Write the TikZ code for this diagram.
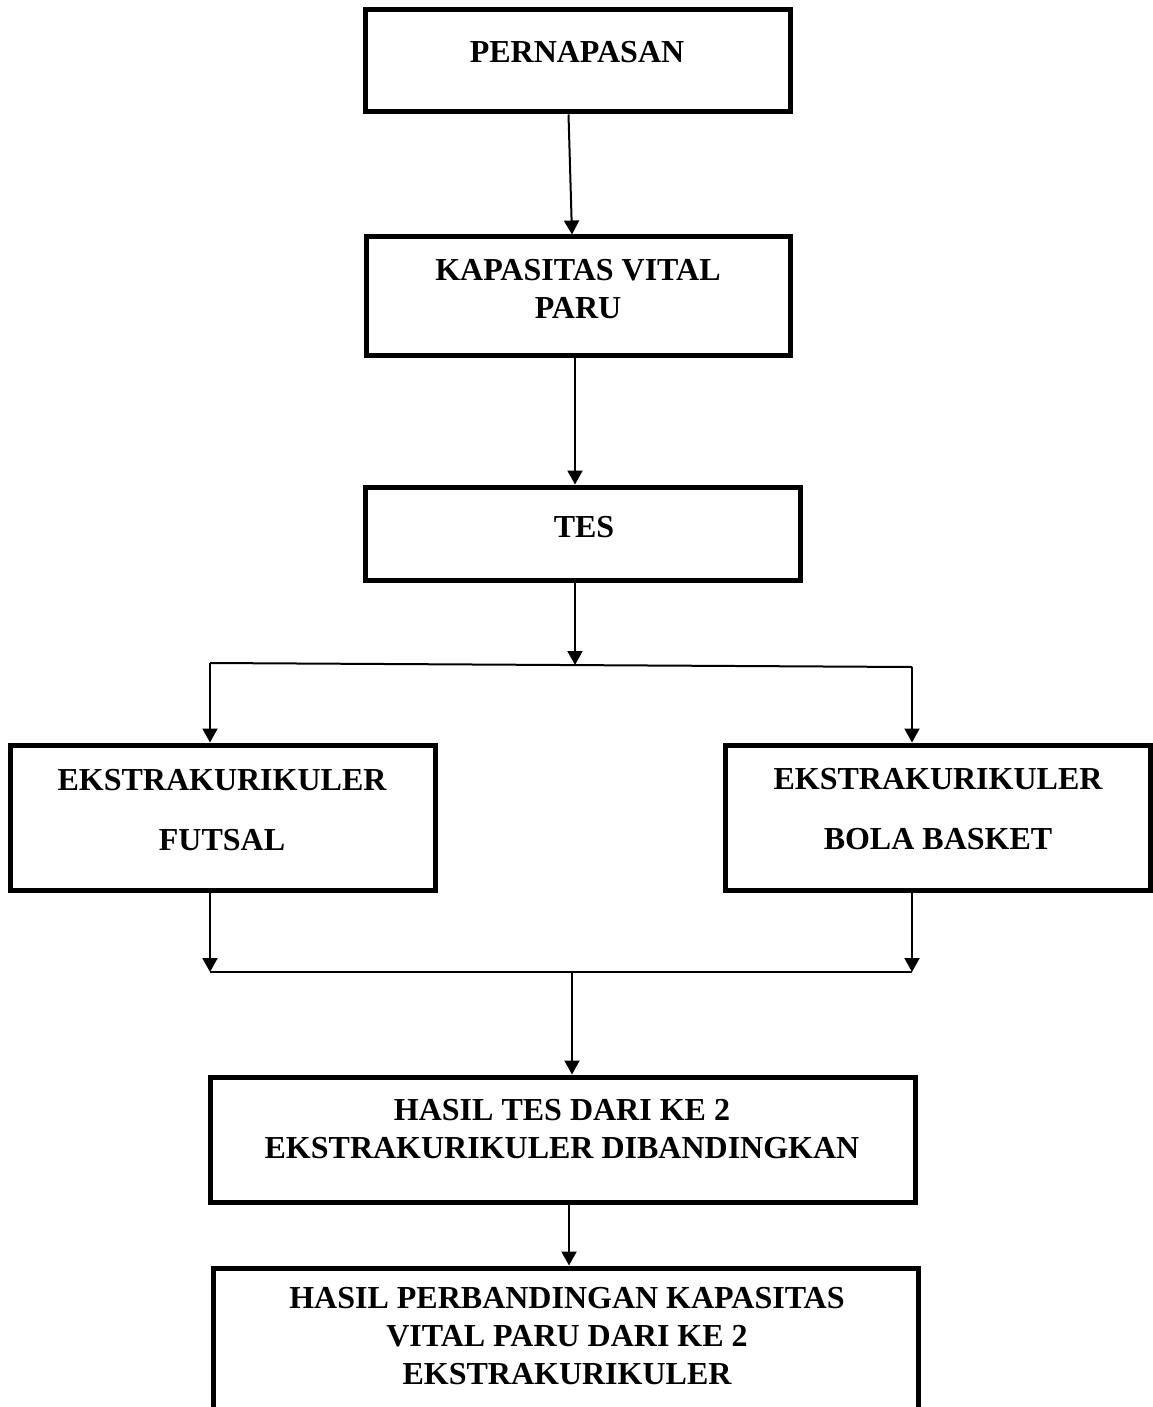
\documentclass[tikz,border=0pt]{standalone}
\usepackage{fontspec}
\setmainfont{Liberation Serif}
\usetikzlibrary{arrows.meta}

\begin{document}
\begin{tikzpicture}[x=0.5pt,y=-0.5pt,
  box/.style={draw,line width=2.5pt,rectangle,inner sep=0pt},
  txt/.style={align=center,font=\fontsize{16}{19}\selectfont\bfseries,inner sep=0pt},
  arr/.style={line width=1pt,-{Triangle[length=7pt,width=7.5pt]}},
  link/.style={line width=1pt}]
\useasboundingbox (0,0) rectangle (1152,1407);

%Shape: boxes
\node [box,minimum width=212.5pt,minimum height=51pt] (pern) at (577.5,61) {};
\node [box,minimum width=212pt,minimum height=59pt] (kvp) at (578,296) {};
\node [box,minimum width=217.5pt,minimum height=46.5pt] (tes) at (582.5,533.5) {};
\node [box,minimum width=212.5pt,minimum height=72.5pt] (fut) at (222.5,817.5) {};
\node [box,minimum width=212.5pt,minimum height=72.5pt] (bas) at (937.5,817.5) {};
\node [box,minimum width=352.5pt,minimum height=62.5pt] (hasil) at (562.5,1139.5) {};
\node [box,minimum width=352.5pt,minimum height=85pt] (banding) at (565.5,1353) {};

% Text Node
\node [txt] (pernT) at (577,52) {PERNAPASAN};
% Text Node
\node [txt] (kvpT) at (578,289) {KAPASITAS VITAL\\PARU};
% Text Node
\node [txt] (tesT) at (584,527) {TES};
% Text Node
\node [txt] (futT) at (222,810) {EKSTRAKURIKULER\\[11pt]FUTSAL};
% Text Node
\node [txt] (basT) at (938,809) {EKSTRAKURIKULER\\[11pt]BOLA BASKET};
% Text Node
\node [txt] (hasilT) at (562,1129) {HASIL TES DARI KE 2\\EKSTRAKURIKULER DIBANDINGKAN};
% Text Node
\node [txt] (bandingT) at (567,1336) {HASIL PERBANDINGAN KAPASITAS\\VITAL PARU DARI KE 2\\EKSTRAKURIKULER};

%Connectors
\coordinate (split) at (575,665);
\coordinate (splitL) at (210,663);
\coordinate (splitR) at (912,667);
\coordinate (joinL) at (210,972);
\coordinate (joinR) at (912,972);
\coordinate (join) at (572,972);

\draw [arr] ([xshift=-4.5pt]pern.south) -- ([xshift=-3pt]kvp.north);
\draw [arr] ([xshift=-1.5pt]kvp.south) -- ([xshift=-3.75pt]tes.north);
\draw [arr] ([xshift=-3.75pt]tes.south) -- (split);
\draw [link] (splitL) -- (splitR);
\draw [arr] (splitL) -- (splitL |- fut.north);
\draw [arr] (splitR) -- (splitR |- bas.north);
\draw [arr] (fut.south -| joinL) -- (joinL);
\draw [arr] (bas.south -| joinR) -- (joinR);
\draw [link] (joinL) -- (joinR);
\draw [arr] (join) -- (join |- hasil.north);
\draw [arr] ([xshift=3.25pt]hasil.south) -- ([xshift=1.75pt]banding.north);
\end{tikzpicture}
\end{document}
